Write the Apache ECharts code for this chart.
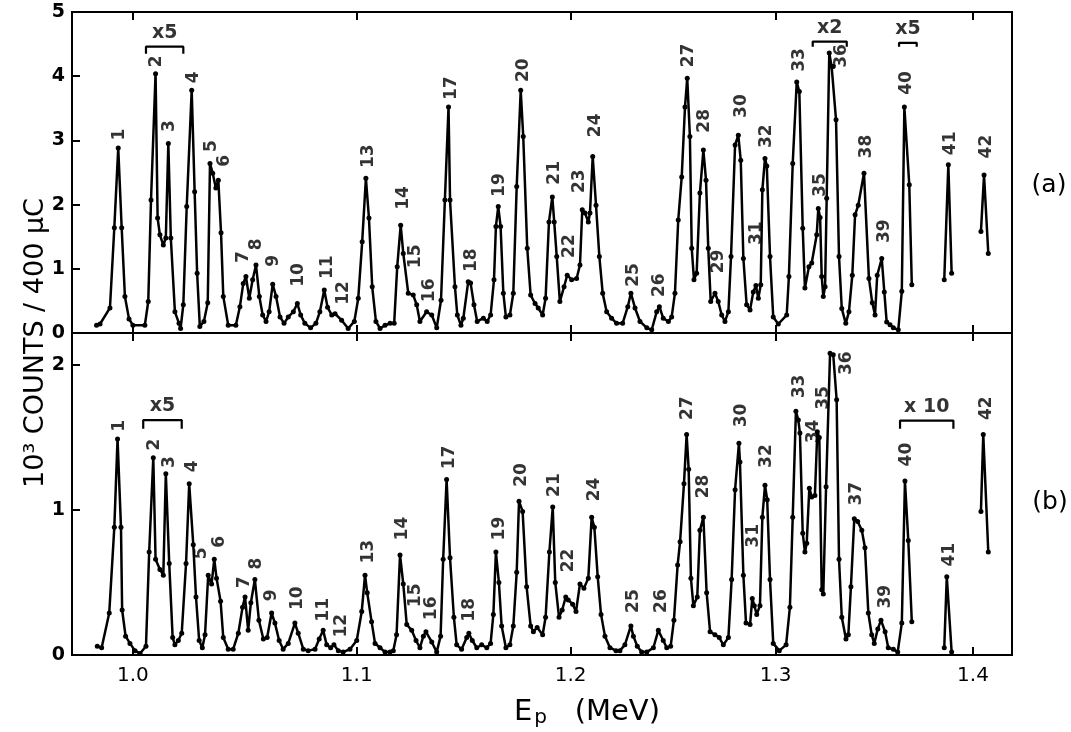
<!DOCTYPE html>
<html>
<head>
<meta charset="utf-8">
<script src="https://cdn.jsdelivr.net/npm/echarts@6/dist/echarts.min.js"></script>
<style>
  html, body { margin: 0; background: #fff; }
  #chart { width: 1071px; height: 732px; }
</style>
</head>
<body>
<div id="chart"></div>
<script>
// spectrum (a): proton energy (MeV) and counts (10^3 / 400 uC); null = break in the trace
const energiesA = [
  0.9842, 0.9857, 0.9900, 0.9919, 0.9936, 0.9951, 0.9965, 0.9983, 1.0000, 1.0052,
  1.0067, 1.0079, 1.0099, 1.0108, 1.0118, 1.0133, 1.0144, 1.0155, 1.0166, 1.0184,
  1.0202, 1.0209, 1.0221, 1.0236, 1.0258, 1.0271, 1.0282, 1.0294, 1.0312, 1.0329,
  1.0339, 1.0351, 1.0365, 1.0376, 1.0388, 1.0398, 1.0420, 1.0454, 1.0472, 1.0487,
  1.0499, 1.0514, 1.0529, 1.0544, 1.0559, 1.0574, 1.0589, 1.0603, 1.0619, 1.0634,
  1.0652, 1.0670, 1.0689, 1.0712, 1.0730, 1.0745, 1.0764, 1.0790, 1.0814, 1.0832,
  1.0852, 1.0867, 1.0886, 1.0901, 1.0931, 1.0961, 1.0989, 1.1007, 1.1025, 1.1042,
  1.1056, 1.1071, 1.1088, 1.1107, 1.1130, 1.1153, 1.1172, 1.1186, 1.1202, 1.1214,
  1.1237, 1.1260, 1.1276, 1.1291, 1.1322, 1.1346, 1.1369, 1.1389, 1.1407, 1.1424,
  1.1431, 1.1454, 1.1465, 1.1482, 1.1493, 1.1516, 1.1527, 1.1543, 1.1558, 1.1587,
  1.1605, 1.1621, 1.1637, 1.1646, 1.1657, 1.1668, 1.1681, 1.1693, 1.1712, 1.1728,
  1.1744, 1.1763, 1.1775, 1.1794, 1.1810, 1.1831, 1.1846, 1.1867, 1.1881, 1.1897,
  1.1913, 1.1922, 1.1934, 1.1949, 1.1969, 1.1984, 1.2005, 1.2029, 1.2045, 1.2056,
  1.2069, 1.2085, 1.2093, 1.2106, 1.2122, 1.2138, 1.2154, 1.2173, 1.2197, 1.2221,
  1.2250, 1.2275, 1.2290, 1.2310, 1.2334, 1.2367, 1.2391, 1.2415, 1.2428, 1.2447,
  1.2472, 1.2488, 1.2504, 1.2520, 1.2537, 1.2553, 1.2564, 1.2577, 1.2586, 1.2597,
  1.2610, 1.2626, 1.2643, 1.2656, 1.2667, 1.2679, 1.2700, 1.2716, 1.2733, 1.2749,
  1.2766, 1.2779, 1.2799, 1.2815, 1.2827, 1.2840, 1.2856, 1.2873, 1.2889, 1.2902,
  1.2914, 1.2926, 1.2934, 1.2947, 1.2956, 1.2972, 1.2988, 1.3013, 1.3055, 1.3066,
  1.3085, 1.3105, 1.3118, 1.3135, 1.3146, 1.3166, 1.3180, 1.3205, 1.3213, 1.3222,
  1.3230, 1.3238, 1.3247, 1.3255, 1.3268, 1.3280, 1.3288, 1.3302, 1.3317, 1.3331,
  1.3351, 1.3367, 1.3384, 1.3398, 1.3414, 1.3443, 1.3468, 1.3485, 1.3499, 1.3510,
  1.3533, 1.3546, 1.3558, 1.3575, 1.3592, 1.3617, 1.3635, 1.3648, 1.3673, 1.3686,
  null, 1.3852, 1.3873, 1.3890, null, 1.4041, 1.4057, 1.4079
];
const countsA = [
  0.12, 0.14, 0.39, 1.64, 2.88, 1.64, 0.57, 0.22, 0.12, 0.12,
  0.49, 2.07, 4.04, 1.79, 1.53, 1.37, 1.48, 2.95, 1.48, 0.33,
  0.15, 0.07, 0.44, 1.97, 3.78, 2.20, 0.93, 0.10, 0.18, 0.47,
  2.64, 2.49, 2.26, 2.38, 1.56, 0.57, 0.12, 0.12, 0.41, 0.77,
  0.88, 0.54, 0.83, 1.06, 0.57, 0.28, 0.18, 0.33, 0.76, 0.57,
  0.25, 0.15, 0.25, 0.33, 0.46, 0.28, 0.15, 0.08, 0.15, 0.33,
  0.67, 0.40, 0.28, 0.30, 0.20, 0.07, 0.18, 0.54, 1.42, 2.41,
  1.79, 0.72, 0.18, 0.07, 0.12, 0.15, 0.15, 1.03, 1.68, 1.24,
  0.62, 0.59, 0.44, 0.18, 0.33, 0.28, 0.08, 0.51, 2.07, 3.52,
  2.07, 0.72, 0.28, 0.12, 0.23, 0.80, 0.78, 0.44, 0.18, 0.23,
  0.18, 0.28, 0.83, 1.66, 1.97, 1.66, 0.62, 0.25, 0.28, 0.62,
  2.28, 3.78, 3.06, 1.32, 0.59, 0.46, 0.39, 0.28, 0.54, 1.73,
  2.12, 1.73, 1.19, 0.49, 0.72, 0.90, 0.83, 0.85, 1.06, 1.92,
  1.87, 1.73, 1.87, 2.75, 1.99, 1.19, 0.62, 0.33, 0.23, 0.15,
  0.15, 0.41, 0.62, 0.39, 0.18, 0.08, 0.05, 0.33, 0.41, 0.23,
  0.18, 0.25, 0.62, 1.76, 2.43, 3.52, 3.97, 3.06, 1.32, 0.83,
  0.93, 2.18, 2.85, 2.38, 1.32, 0.49, 0.62, 0.49, 0.28, 0.18,
  0.33, 1.19, 2.93, 3.08, 2.69, 1.16, 0.44, 0.36, 0.64, 0.74,
  0.54, 0.75, 2.23, 2.72, 2.60, 1.19, 0.25, 0.14, 0.28, 0.88,
  2.64, 3.91, 3.76, 1.63, 0.70, 1.03, 1.09, 1.53, 1.94, 1.80,
  0.88, 0.57, 0.72, 2.10, 4.36, 4.15, 4.15, 3.32, 1.19, 0.38,
  0.15, 0.33, 0.90, 1.84, 1.99, 2.49, 0.85, 0.47, 0.28, 0.90,
  1.16, 0.64, 0.17, 0.13, 0.08, 0.05, 0.65, 3.52, 2.31, 0.75,
  null, 0.83, 2.62, 0.93, null, 1.58, 2.46, 1.24
];

// spectrum (b)
const energiesB = [
  0.9845, 0.9864, 0.9897, 0.9919, 0.9933, 0.9948, 0.9953, 0.9968, 0.9987, 1.0009,
  1.0031, 1.0057, 1.0071, 1.0089, 1.0099, 1.0118, 1.0133, 1.0144, 1.0159, 1.0174,
  1.0184, 1.0199, 1.0214, 1.0233, 1.0247, 1.0265, 1.0277, 1.0291, 1.0305, 1.0317,
  1.0331, 1.0346, 1.0358, 1.0368, 1.0386, 1.0398, 1.0420, 1.0442, 1.0465, 1.0484,
  1.0495, 1.0509, 1.0521, 1.0539, 1.0557, 1.0577, 1.0594, 1.0614, 1.0629, 1.0648,
  1.0666, 1.0689, 1.0719, 1.0734, 1.0757, 1.0779, 1.0810, 1.0829, 1.0847, 1.0863,
  1.0881, 1.0896, 1.0916, 1.0938, 1.0969, 1.1000, 1.1023, 1.1038, 1.1048, 1.1068,
  1.1084, 1.1107, 1.1130, 1.1153, 1.1168, 1.1183, 1.1199, 1.1214, 1.1230, 1.1253,
  1.1273, 1.1291, 1.1307, 1.1319, 1.1346, 1.1369, 1.1387, 1.1399, 1.1415, 1.1431,
  1.1449, 1.1462, 1.1485, 1.1509, 1.1519, 1.1535, 1.1556, 1.1579, 1.1603, 1.1621,
  1.1634, 1.1646, 1.1660, 1.1673, 1.1693, 1.1712, 1.1728, 1.1744, 1.1755, 1.1772,
  1.1791, 1.1810, 1.1823, 1.1841, 1.1867, 1.1881, 1.1899, 1.1915, 1.1927, 1.1945,
  1.1960, 1.1977, 1.1989, 1.2010, 1.2026, 1.2045, 1.2064, 1.2085, 1.2101, 1.2114,
  1.2130, 1.2146, 1.2165, 1.2189, 1.2218, 1.2237, 1.2261, 1.2290, 1.2302, 1.2321,
  1.2342, 1.2367, 1.2399, 1.2423, 1.2447, 1.2464, 1.2483, 1.2499, 1.2517, 1.2529,
  1.2548, 1.2561, 1.2571, 1.2582, 1.2594, 1.2613, 1.2626, 1.2643, 1.2659, 1.2676,
  1.2700, 1.2721, 1.2741, 1.2766, 1.2782, 1.2799, 1.2818, 1.2823, 1.2840, 1.2853,
  1.2873, 1.2884, 1.2894, 1.2906, 1.2922, 1.2934, 1.2947, 1.2958, 1.2972, 1.2988,
  1.3018, 1.3052, 1.3071, 1.3085, 1.3101, 1.3113, 1.3121, 1.3135, 1.3146, 1.3155,
  1.3168, 1.3180, 1.3196, 1.3208, 1.3218, 1.3230, 1.3238, 1.3252, 1.3272, 1.3288,
  1.3305, 1.3317, 1.3331, 1.3352, 1.3364, 1.3377, 1.3394, 1.3411, 1.3432, 1.3448,
  1.3465, 1.3482, 1.3495, 1.3513, 1.3529, 1.3550, 1.3566, 1.3592, 1.3614, 1.3635,
  1.3651, 1.3668, 1.3686, null, 1.3852, 1.3865, 1.3890, null, 1.4041, 1.4053,
  1.4079
];
const countsB = [
  0.06, 0.05, 0.29, 0.88, 1.49, 0.88, 0.31, 0.13, 0.08, 0.03,
  0.01, 0.06, 0.71, 1.36, 0.66, 0.59, 0.55, 1.25, 0.63, 0.12,
  0.07, 0.10, 0.15, 0.63, 1.18, 0.76, 0.40, 0.10, 0.05, 0.14,
  0.55, 0.49, 0.66, 0.53, 0.37, 0.12, 0.04, 0.04, 0.15, 0.33,
  0.40, 0.17, 0.36, 0.52, 0.24, 0.11, 0.12, 0.29, 0.22, 0.10,
  0.04, 0.08, 0.22, 0.15, 0.04, 0.03, 0.04, 0.11, 0.17, 0.07,
  0.05, 0.07, 0.03, 0.02, 0.04, 0.10, 0.30, 0.55, 0.43, 0.23,
  0.08, 0.05, 0.02, 0.02, 0.03, 0.14, 0.69, 0.49, 0.21, 0.17,
  0.10, 0.05, 0.13, 0.16, 0.09, 0.02, 0.13, 0.66, 1.21, 0.67,
  0.26, 0.07, 0.04, 0.12, 0.15, 0.10, 0.05, 0.07, 0.05, 0.08,
  0.28, 0.71, 0.50, 0.20, 0.05, 0.07, 0.20, 0.57, 1.06, 0.99,
  0.47, 0.20, 0.16, 0.19, 0.14, 0.26, 0.71, 1.02, 0.50, 0.26,
  0.31, 0.40, 0.38, 0.35, 0.30, 0.49, 0.46, 0.53, 0.95, 0.88,
  0.54, 0.28, 0.13, 0.05, 0.03, 0.03, 0.07, 0.20, 0.13, 0.06,
  0.02, 0.02, 0.05, 0.17, 0.10, 0.05, 0.06, 0.24, 0.62, 0.78,
  1.18, 1.52, 1.28, 0.53, 0.34, 0.40, 0.86, 0.95, 0.43, 0.16,
  0.14, 0.12, 0.07, 0.12, 0.52, 1.14, 1.46, 1.33, 0.55, 0.22,
  0.21, 0.39, 0.34, 0.28, 0.34, 0.95, 1.17, 1.07, 0.52, 0.08,
  0.03, 0.07, 0.33, 0.95, 1.68, 1.62, 1.53, 0.84, 0.71, 0.77,
  1.15, 1.09, 1.10, 1.54, 1.50, 0.45, 0.42, 1.16, 2.08, 2.07,
  1.76, 0.66, 0.26, 0.11, 0.14, 0.47, 0.94, 0.92, 0.86, 0.74,
  0.29, 0.14, 0.08, 0.18, 0.24, 0.16, 0.05, 0.04, 0.02, 0.22,
  1.20, 0.79, 0.23, null, 0.05, 0.54, 0.02, null, 0.99, 1.52,
  0.71
];

// numbered peaks: name, energy, height where the label starts
const peakNamesA = ['1','2','3','4','5','6','7','8','9','10','11','12','13','14','15','16','17','18','19','20',
  '21','22','23','24','25','26','27','28','29','30','31','32','33','35','36','38','39','40','41','42'];
const peakEnergiesA = [0.9943, 1.0104, 1.0162, 1.0265, 1.0346, 1.0402, 1.0487, 1.0547, 1.0621, 1.0734,
  1.0867, 1.0938, 1.1053, 1.1214, 1.1273, 1.1334, 1.1439, 1.1532, 1.1665, 1.1775,
  1.1926, 1.1997, 1.2045, 1.2122, 1.2302, 1.2431, 1.2569, 1.2651, 1.2716, 1.2830,
  1.2906, 1.2956, 1.3121, 1.3222, 1.3331, 1.3457, 1.3546, 1.3660, 1.3882, 1.4071];
const peakLabelYA = [3.00, 4.14, 3.13, 3.89, 2.82, 2.59, 1.09, 1.29, 1.03, 0.72,
  0.84, 0.44, 2.57, 1.92, 1.01, 0.48, 3.63, 0.95, 2.12, 3.91,
  2.31, 1.17, 2.18, 3.05, 0.72, 0.56, 4.14, 3.12, 0.93, 3.35,
  1.37, 2.88, 4.07, 2.12, 4.13, 2.72, 1.40, 3.71, 2.77, 2.72];

const peakNamesB = ['1','2','3','4','5','6','7','8','9','10','11','12','13','14','15','16','17','18','19','20',
  '21','22','24','25','26','27','28','30','31','32','33','34','35','36','37','39','40','41','42'];
const peakEnergiesB = [0.9940, 1.0096, 1.0162, 1.0260, 1.0302, 1.0380, 1.0495, 1.0547, 1.0614, 1.0730,
  1.0847, 1.0931, 1.1053, 1.1211, 1.1273, 1.1346, 1.1427, 1.1521, 1.1662, 1.1768,
  1.1926, 1.1989, 1.2117, 1.2302, 1.2439, 1.2566, 1.2646, 1.2830, 1.2889, 1.2956,
  1.3121, 1.3188, 1.3238, 1.3356, 1.3406, 1.3550, 1.3660, 1.3878, 1.4071];
const peakLabelYB = [1.54, 1.41, 1.29, 1.26, 0.66, 0.74, 0.46, 0.59, 0.37, 0.31,
  0.23, 0.12, 0.63, 0.79, 0.33, 0.24, 1.28, 0.23, 0.79, 1.16,
  1.09, 0.57, 1.06, 0.29, 0.29, 1.62, 1.08, 1.57, 0.74, 1.29,
  1.77, 1.46, 1.69, 1.93, 1.03, 0.32, 1.30, 0.61, 1.62];

// scale-factor brackets
const bracketTextA = ['x5', 'x2', 'x5'];
const bracketFromA = [1.0057, 1.3185, 1.3621];
const bracketToA = [1.0221, 1.3356, 1.3711];
const bracketTopA = [4.46, 4.54, 4.52];
const bracketFootA = [4.35, 4.46, 4.46];

const bracketTextB = ['x5', 'x 10'];
const bracketFromB = [1.0045, 1.3626];
const bracketToB = [1.0214, 1.3899];
const bracketTopB = [1.62, 1.616];
const bracketFootB = [1.56, 1.56];

const tickEnergies = [1.0, 1.1, 1.2, 1.3, 1.4];
const energyMin = 0.9736;
const energyMax = 1.4202;

const FONT = 'DejaVu Sans';
const INK = '#000';

// spectrograph focal plane: position goes with sqrt(E)
const toU = (e) => Math.sqrt(e);

function tracePoints(energies, counts) {
  return energies.map((e, i) => (e === null ? ['-', '-'] : [toU(e), counts[i]]));
}

function labelPoints(names, energies, ys) {
  return names.map((n, i) => ({ name: n, value: [toU(energies[i]), ys[i]] }));
}

function bracketPoints(from, to, top, foot) {
  const pts = [];
  from.forEach((f, i) => {
    if (i > 0) pts.push(['-', '-']);
    pts.push([toU(f), foot[i]], [toU(f), top[i]], [toU(to[i]), top[i]], [toU(to[i]), foot[i]]);
  });
  return pts;
}

function bracketLabels(texts, from, to, top) {
  return texts.map((t, i) => ({ name: t, value: [(toU(from[i]) + toU(to[i])) / 2, top[i]] }));
}

function xAxisFor(gridIndex, position, showLabels) {
  const ticks = tickEnergies.map(toU);
  return {
    type: 'value',
    gridIndex,
    position,
    min: toU(energyMin),
    max: toU(energyMax),
    axisLine: { show: false },
    splitLine: { show: false },
    axisTick: {
      show: true,
      inside: true,
      length: 8,
      customValues: ticks,
      lineStyle: { color: INK, width: 2 }
    },
    axisLabel: {
      show: showLabels,
      customValues: ticks,
      formatter: (v) => (v * v).toFixed(1),
      margin: 11,
      fontSize: 20,
      fontFamily: FONT,
      color: INK
    }
  };
}

function yAxisFor(gridIndex, max) {
  return {
    type: 'value',
    gridIndex,
    min: 0,
    max,
    interval: 1,
    axisLine: { show: false },
    splitLine: { show: false },
    axisTick: { show: true, inside: true, length: 8, lineStyle: { color: INK, width: 2 } },
    axisLabel: {
      showMaxLabel: max % 1 === 0,
      margin: 7,
      fontSize: 19,
      fontWeight: 'bold',
      fontFamily: FONT,
      color: INK
    }
  };
}

function traceSeries(xi, yi, data) {
  return {
    type: 'line',
    xAxisIndex: xi,
    yAxisIndex: yi,
    data,
    symbol: 'circle',
    symbolSize: 5,
    showAllSymbol: true,
    connectNulls: false,
    lineStyle: { color: INK, width: 2.5 },
    itemStyle: { color: INK },
    silent: true,
    z: 3
  };
}

function peakLabelSeries(xi, yi, data) {
  return {
    type: 'scatter',
    xAxisIndex: xi,
    yAxisIndex: yi,
    data,
    symbolSize: 0,
    silent: true,
    label: {
      show: true,
      formatter: (p) => p.name,
      position: [0, 0],
      rotate: 90,
      align: 'left',
      verticalAlign: 'middle',
      fontSize: 17,
      fontWeight: 'bold',
      fontFamily: FONT,
      color: INK
    },
    z: 4
  };
}

function bracketSeries(xi, yi, data) {
  return {
    type: 'line',
    xAxisIndex: xi,
    yAxisIndex: yi,
    data,
    showSymbol: false,
    connectNulls: false,
    lineStyle: { color: INK, width: 2.2 },
    silent: true,
    z: 4
  };
}

function bracketTextSeries(xi, yi, data) {
  return {
    type: 'scatter',
    xAxisIndex: xi,
    yAxisIndex: yi,
    data,
    symbolSize: 0,
    silent: true,
    label: {
      show: true,
      formatter: (p) => p.name,
      position: 'top',
      distance: 4,
      fontSize: 19,
      fontWeight: 'bold',
      fontFamily: FONT,
      color: INK
    },
    z: 4
  };
}

const chart = echarts.init(document.getElementById('chart'));

chart.setOption({
  animation: false,
  backgroundColor: '#fff',
  grid: [
    { left: 72, right: 59, top: 12, height: 321, show: true, borderColor: INK, borderWidth: 2 },
    { left: 72, right: 59, top: 333, height: 322, show: true, borderColor: INK, borderWidth: 2 }
  ],
  xAxis: [
    xAxisFor(0, 'bottom', false),
    xAxisFor(0, 'top', false),
    xAxisFor(1, 'bottom', true),
    xAxisFor(1, 'top', false)
  ],
  yAxis: [yAxisFor(0, 5), yAxisFor(1, 2.22)],
  series: [
    traceSeries(0, 0, tracePoints(energiesA, countsA)),
    traceSeries(2, 1, tracePoints(energiesB, countsB)),
    peakLabelSeries(0, 0, labelPoints(peakNamesA, peakEnergiesA, peakLabelYA)),
    peakLabelSeries(2, 1, labelPoints(peakNamesB, peakEnergiesB, peakLabelYB)),
    bracketSeries(0, 0, bracketPoints(bracketFromA, bracketToA, bracketTopA, bracketFootA)),
    bracketSeries(2, 1, bracketPoints(bracketFromB, bracketToB, bracketTopB, bracketFootB)),
    bracketTextSeries(0, 0, bracketLabels(bracketTextA, bracketFromA, bracketToA, bracketTopA)),
    bracketTextSeries(2, 1, bracketLabels(bracketTextB, bracketFromB, bracketToB, bracketTopB))
  ],
  graphic: [
    {
      type: 'text',
      x: 36,
      y: 343,
      rotation: Math.PI / 2,
      style: {
        text: '10³ COUNTS / 400 μC',
        fontSize: 27,
        fontFamily: FONT,
        fill: INK,
        align: 'center',
        verticalAlign: 'middle'
      }
    },
    {
      type: 'text',
      x: 587,
      y: 712,
      style: {
        text: '{e|E}{s|p}{e|   (MeV)}',
        rich: {
          e: { fontSize: 29, fontFamily: FONT, fill: INK, lineHeight: 34 },
          s: { fontSize: 20, fontFamily: FONT, fill: INK, lineHeight: 34, padding: [12, 0, 0, 2] }
        },
        align: 'center',
        verticalAlign: 'middle'
      }
    },
    {
      type: 'text',
      x: 1049,
      y: 185,
      style: { text: '(a)', fontSize: 25, fontFamily: FONT, fill: INK, align: 'center', verticalAlign: 'middle' }
    },
    {
      type: 'text',
      x: 1050,
      y: 502,
      style: { text: '(b)', fontSize: 25, fontFamily: FONT, fill: INK, align: 'center', verticalAlign: 'middle' }
    }
  ]
});
</script>
</body>
</html>
